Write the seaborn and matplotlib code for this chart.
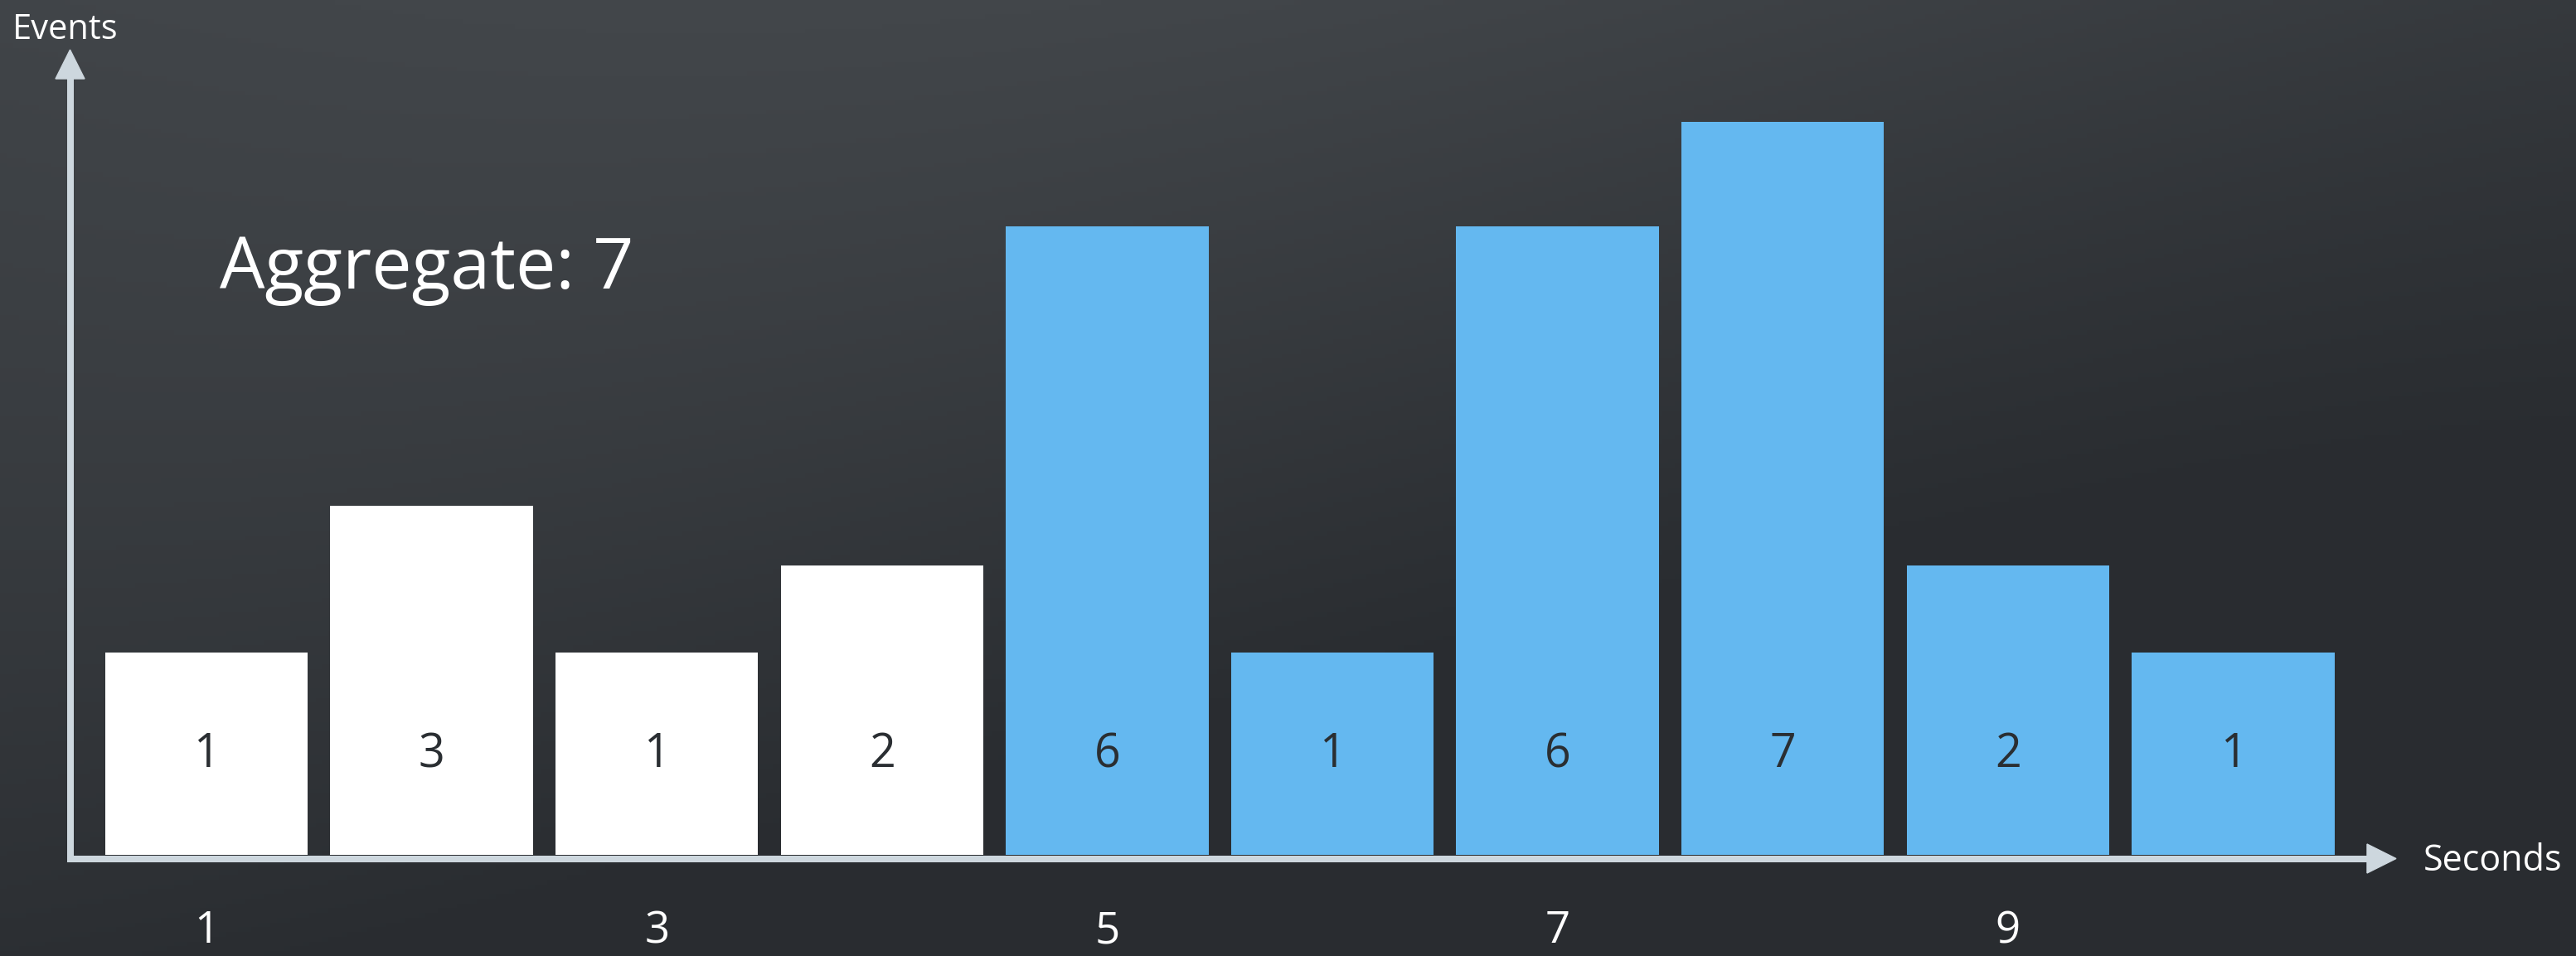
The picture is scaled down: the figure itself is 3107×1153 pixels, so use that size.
import numpy as np
import pandas as pd
import matplotlib
matplotlib.use("Agg")
import matplotlib.pyplot as plt
from matplotlib.patches import Polygon
import seaborn as sns

# Data
seconds = [1, 2, 3, 4, 5, 6, 7, 8, 9, 10]
counts = [1, 3, 1, 2, 6, 1, 6, 7, 2, 1]
# bar heights as drawn (the picture does not scale them by count)
heights = [2.44, 4.21, 2.44, 3.49, 7.58, 2.44, 7.58, 8.84, 3.49, 2.44]
window = ["out", "out", "out", "out", "in", "in", "in", "in", "in", "in"]
tick_seconds = [1, 3, 5, 7, 9]
aggregate = 7

df = pd.DataFrame({"Seconds": seconds, "Height": heights,
                   "Count": counts, "Window": window})

sns.set_style("dark")
plt.rcParams['font.family'] = ['Open Sans', 'DejaVu Sans']

W, H = 3107, 1153
fig = plt.figure(figsize=(W / 100, H / 100), dpi=100)

# Background: dark slate gradient
bg = fig.add_axes([0, 0, 1, 1])
yy, xx = np.mgrid[0:1:200j, 0:1:400j]
f = np.clip(0.95 - 1.0 * yy - 0.3 * xx + 0.18 * np.sin(4 * xx + 2 * yy), 0, 1)
dark = np.array([0x29, 0x2c, 0x30]) / 255
light = np.array([0x42, 0x46, 0x4a]) / 255
img = dark + (light - dark) * f[..., None]
bg.imshow(img, aspect='auto', extent=[0, 1, 0, 1], origin='upper')
bg.set_axis_off()

# Main chart axes
ax = fig.add_axes([0, 0, 1, 1])
ax.patch.set_alpha(0)
px = 271.6  # pixels per second
ax.set_xlim(1 - 249 / px, 1 + (W - 249) / px)
ax.set_ylim(-1.22, (H - 122) / 100)

sns.barplot(data=df, x="Seconds", y="Height", hue="Window",
            palette={"out": "#ffffff", "in": "#64b8f0"},
            native_scale=True, dodge=False, width=0.9, saturation=1,
            linewidth=0, legend=False, ax=ax, zorder=2)

for s, c in zip(seconds, counts):
    ax.text(s, 1.06, str(c), ha='center', va='baseline', fontsize=40,
            color='#2a2e32', zorder=3)

for s in tick_seconds:
    ax.text(s, -1.06, str(s), ha='center', va='baseline', fontsize=38,
            color='white')

ax.set_axis_off()

# Overlay for the arrows and titles, in pixel units
ov = fig.add_axes([0, 0, 1, 1])
ov.patch.set_alpha(0)
ov.set_xlim(0, W)
ov.set_ylim(H, 0)
ov.set_axis_off()

axis_col = '#cdd7de'
lw = 8 * 0.72
ov.plot([85, 85], [1039, 92], color=axis_col, lw=lw, solid_capstyle='butt', zorder=4)
ov.plot([81, 2858], [1035.5, 1035.5], color=axis_col, lw=lw, solid_capstyle='butt', zorder=4)
ov.add_patch(Polygon([[67, 95], [102, 95], [84.5, 60]], closed=True, color=axis_col, zorder=4))
ov.add_patch(Polygon([[2855, 1018], [2855, 1053], [2890, 1035.5]], closed=True, color=axis_col, zorder=4))

ov.text(15, 47, "Events", fontsize=30, color='white', va='baseline')
ov.text(2923, 1050, "Seconds", fontsize=31, color='white', va='baseline')
ov.text(265, 348, f"Aggregate: {aggregate}", fontsize=62, color='white',
        va='baseline')

fig.savefig("out.png", dpi=100)
